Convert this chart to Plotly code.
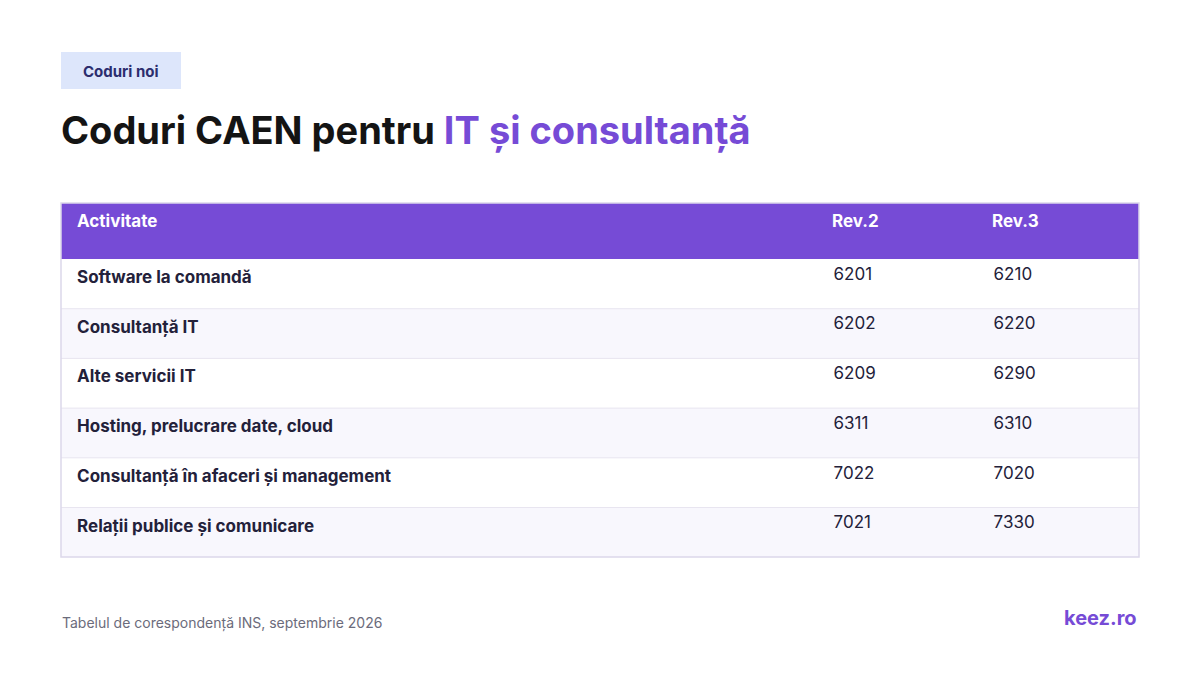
import plotly.graph_objects as go

activitati = ["Software la comandă", "Consultanță IT", "Alte servicii IT",
              "Hosting, prelucrare date, cloud",
              "Consultanță în afaceri și management",
              "Relații publice și comunicare"]
rev2 = ["6201", "6202", "6209", "6311", "7022", "7021"]
rev3 = ["6210", "6220", "6290", "6310", "7020", "7330"]
header = ["Activitate", "Rev.2", "Rev.3"]

W, H = 1200, 675
PURPLE = "#764bd6"
FONT = "Inter"
OFF = 8  # page margin offset

def px(x): return (x - OFF) / W
def py(y): return 1 - (y - OFF) / H

pad = "\u00a0\u00a0"
n = len(activitati)
fills = [["#ffffff" if i % 2 == 0 else "#f8f7fd" for i in range(n)]] * 3

fig = go.Figure(go.Table(
    domain=dict(x=[px(61), px(1139)], y=[py(557), py(203)]),
    columnwidth=[755, 160, 163],
    header=dict(values=["<b>" + pad + h + "</b>" for h in header],
                fill_color=PURPLE, line_width=0, height=56, align="left",
                font=dict(family=FONT, size=17, color="white")),
    cells=dict(values=[["<b>" + pad + a + "</b>" for a in activitati],
                       [pad + v for v in rev2], [pad + v for v in rev3]],
               fill_color=fills, line_width=0, height=49.7, align="left",
               font=dict(family=FONT, size=17, color="#23213a")),
))

shapes = []
for i in range(1, n):
    y = 259 + i * 49.7
    shapes.append(dict(type="line", xref="paper", yref="paper", x0=px(61), x1=px(1139),
                       y0=py(y), y1=py(y), line=dict(color="#e8e5f0", width=1), layer="above"))
shapes.append(dict(type="rect", xref="paper", yref="paper", x0=px(61), x1=px(1139),
                   y0=py(557), y1=py(203),
                   line=dict(color="#dcd8ea", width=1.5), layer="above"))
shapes.append(dict(type="rect", xref="paper", yref="paper", x0=px(61), x1=px(181),
                   y0=py(89), y1=py(52), fillcolor="#dde6fb", line_width=0, layer="below"))
fig.update_layout(shapes=shapes)

ann = [
    dict(x=px(121), y=py(71), text="<b>Coduri noi</b>", xanchor="center", yanchor="middle",
         font=dict(family=FONT, size=15, color="#2b2d6e")),
    dict(x=px(59), y=py(130), xanchor="left", yanchor="middle",
         text="<b>Coduri CAEN pentru <span style='color:%s'>IT și consultanță</span></b>" % PURPLE,
         font=dict(family=FONT, size=38, color="#141414")),
    dict(x=px(60), y=py(623), xanchor="left", yanchor="middle",
         text="Tabelul de corespondență INS, septembrie 2026",
         font=dict(family=FONT, size=14, color="#6b6b7b")),
    dict(x=px(1139), y=py(618), xanchor="right", yanchor="middle", text="<b>keez.ro</b>",
         font=dict(family=FONT, size=20, color=PURPLE)),
]
for a in ann:
    a.update(xref="paper", yref="paper", showarrow=False)
fig.update_layout(annotations=ann, width=W, height=H, margin=dict(l=0, r=0, t=0, b=0),
                  paper_bgcolor="white", plot_bgcolor="white")
fig.write_html("out.html")
